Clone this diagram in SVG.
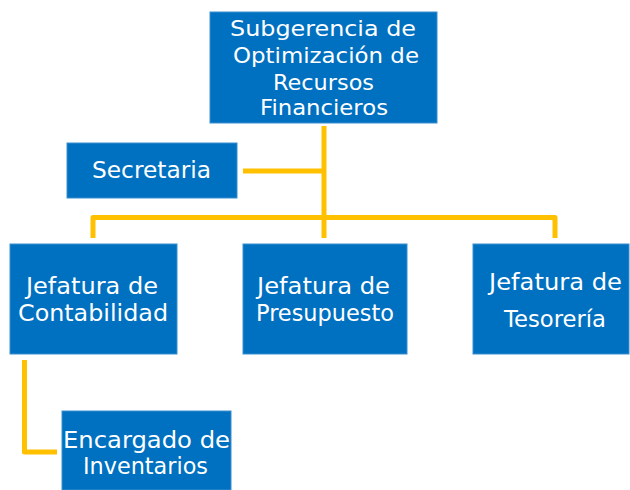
<svg xmlns="http://www.w3.org/2000/svg" width="630" height="490" viewBox="0 0 630 490">
<style>
.box{fill:#0070C0;stroke:#3a8fd0;stroke-width:1}
.t{font-family:"DejaVu Sans","Liberation Sans",sans-serif;fill:#ffffff;text-anchor:middle}
.c{fill:none;stroke:#FFC000;stroke-width:5;stroke-linejoin:round;stroke-linecap:butt}
</style>
<rect width="630" height="490" fill="#ffffff"/>
<g id="connectors">
<path class="c" d="M324,126 V238"/>
<path class="c" d="M243,171 H324"/>
<path class="c" d="M93,238 V217.5 H555 V238"/>
<path class="c" d="M24.5,360 V452 H57"/>
</g>
<g id="subgerencia">
<rect class="box" x="210" y="12" width="227" height="111"/>
<text class="t" font-size="22" x="323" y="36" textLength="186" lengthAdjust="spacingAndGlyphs">Subgerencia de</text>
<text class="t" font-size="22" x="326" y="63" textLength="186" lengthAdjust="spacingAndGlyphs">Optimización de</text>
<text class="t" font-size="22" x="323.5" y="90" textLength="101" lengthAdjust="spacingAndGlyphs">Recursos</text>
<text class="t" font-size="22" x="324" y="115" textLength="128" lengthAdjust="spacingAndGlyphs">Financieros</text>
</g>
<g id="secretaria">
<rect class="box" x="67" y="143" width="170" height="55"/>
<text class="t" font-size="23" x="151.5" y="178" textLength="119" lengthAdjust="spacingAndGlyphs">Secretaria</text>
</g>
<g id="contabilidad">
<rect class="box" x="10" y="244" width="167" height="110"/>
<text class="t" font-size="23" x="92" y="294" textLength="132" lengthAdjust="spacingAndGlyphs">Jefatura de</text>
<text class="t" font-size="23" x="93" y="321" textLength="150" lengthAdjust="spacingAndGlyphs">Contabilidad</text>
</g>
<g id="presupuesto">
<rect class="box" x="243" y="244" width="164" height="110"/>
<text class="t" font-size="23" x="323.5" y="294" textLength="133" lengthAdjust="spacingAndGlyphs">Jefatura de</text>
<text class="t" font-size="23" x="325" y="321" textLength="138" lengthAdjust="spacingAndGlyphs">Presupuesto</text>
</g>
<g id="tesoreria">
<rect class="box" x="473" y="244" width="156" height="110"/>
<text class="t" font-size="23" x="555.5" y="290" textLength="133" lengthAdjust="spacingAndGlyphs">Jefatura de</text>
<text class="t" font-size="23" x="555" y="327" textLength="102" lengthAdjust="spacingAndGlyphs">Tesorería</text>
</g>
<g id="encargado">
<rect class="box" x="62" y="411" width="169" height="79"/>
<text class="t" font-size="23" x="146.5" y="448" textLength="167" lengthAdjust="spacingAndGlyphs">Encargado de</text>
<text class="t" font-size="23" x="145.5" y="474" textLength="125" lengthAdjust="spacingAndGlyphs">Inventarios</text>
</g>
</svg>
